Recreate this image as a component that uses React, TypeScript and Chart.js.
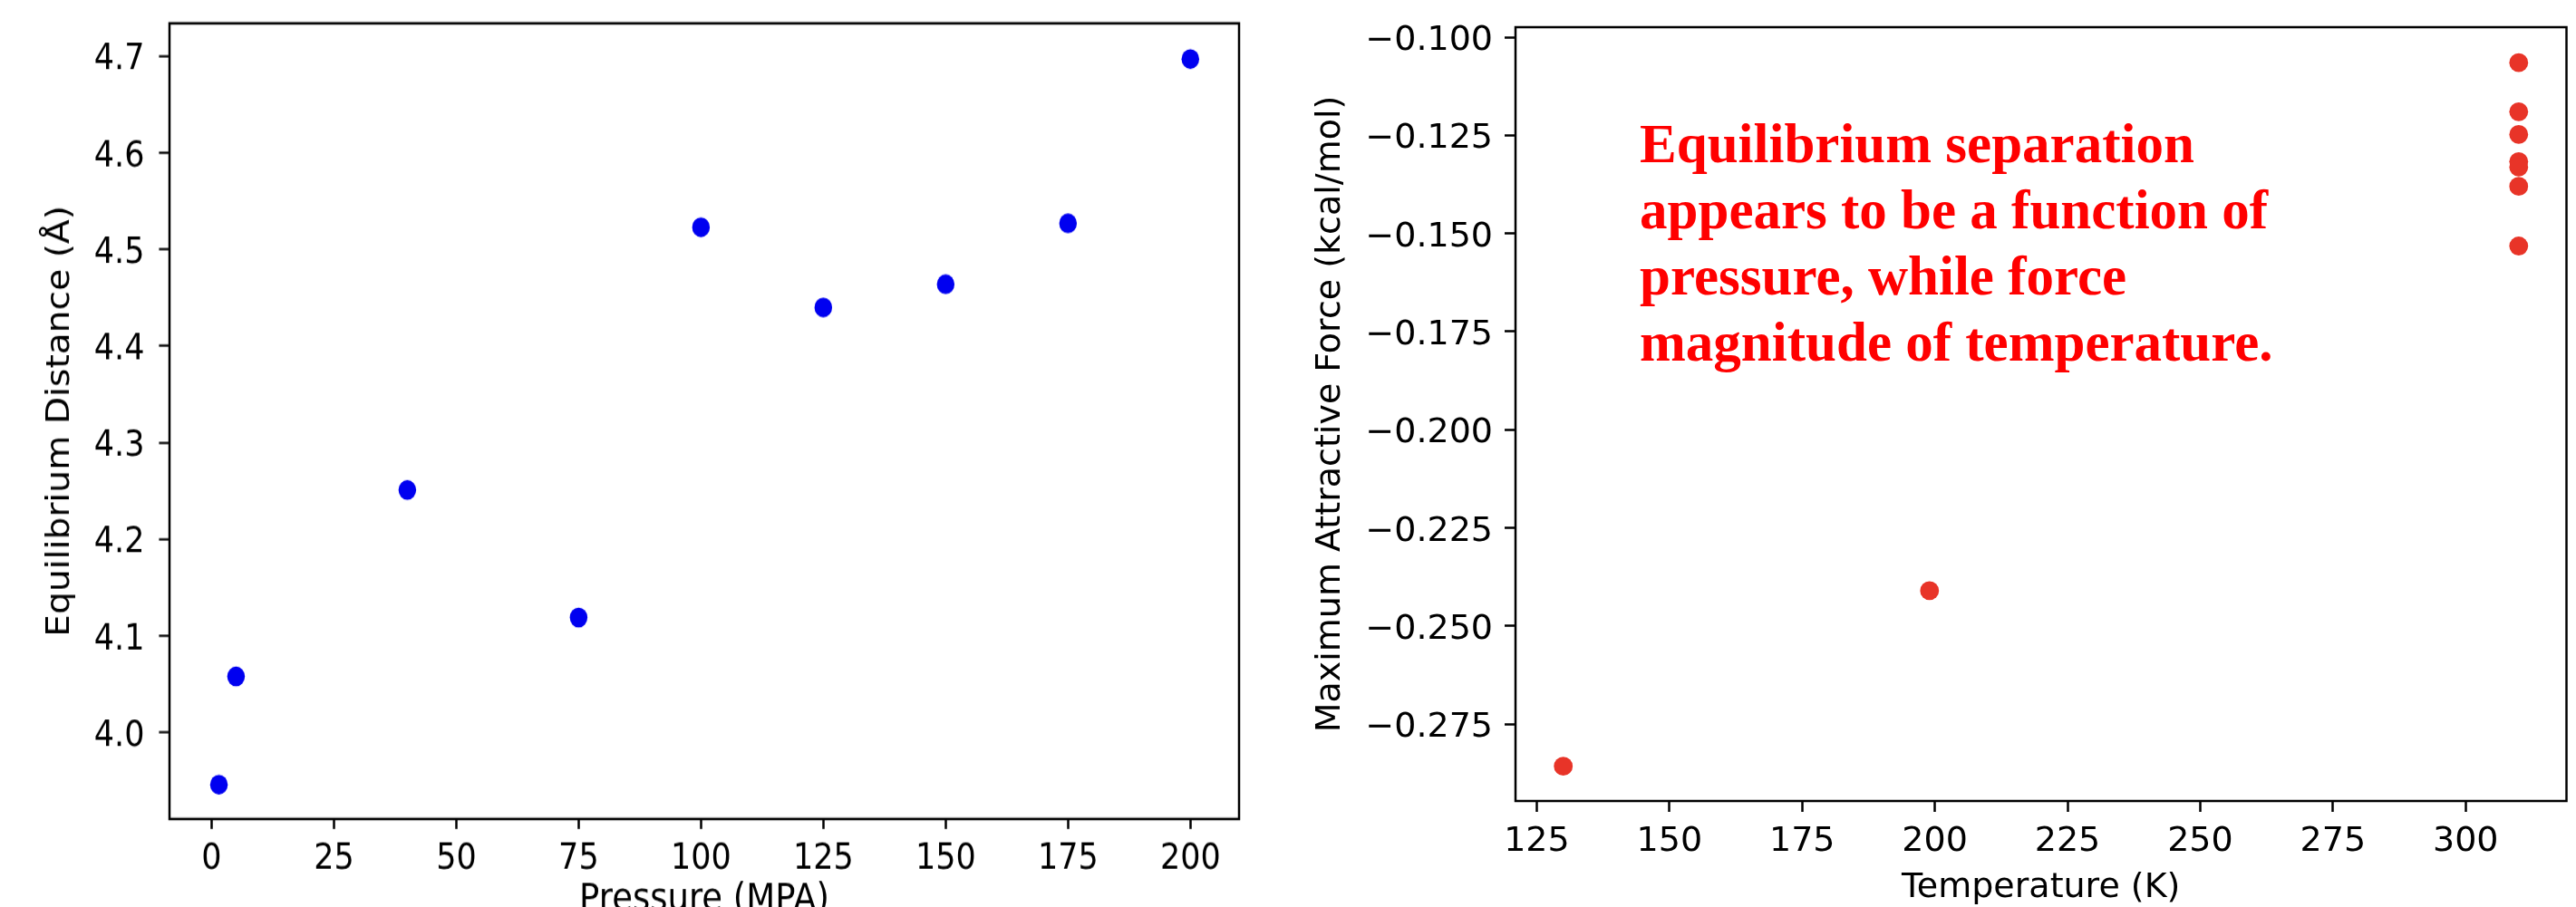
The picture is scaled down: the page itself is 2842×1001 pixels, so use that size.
import React, { useEffect, useRef } from 'react';
import { Chart, registerables } from 'chart.js';

Chart.register(...registerables);

// ---------- Left panel data ----------
const pressureMPa = [1.5, 5, 40, 75, 100, 125, 150, 175, 200];
const equilibriumDistance = [3.946, 4.058, 4.251, 4.119, 4.523, 4.44, 4.464, 4.527, 4.697];
const pressureTicks = [0, 25, 50, 75, 100, 125, 150, 175, 200];
const pressureTickLabels = ['0', '25', '50', '75', '100', '125', '150', '175', '200'];
const distanceTicks = [4.0, 4.1, 4.2, 4.3, 4.4, 4.5, 4.6, 4.7];
const distanceTickLabels = ['4.0', '4.1', '4.2', '4.3', '4.4', '4.5', '4.6', '4.7'];
const pressureRange = [-8.6, 209.95];
const distanceRange = [3.9105, 4.734];

// ---------- Right panel data ----------
const temperatureK = [130, 199, 310, 310, 310, 310, 310, 310, 310];
const attractiveForce = [-0.2857, -0.241, -0.1065, -0.119, -0.1248, -0.1317, -0.1331, -0.138, -0.1532];
const temperatureTicks = [125, 150, 175, 200, 225, 250, 275, 300];
const temperatureTickLabels = ['125', '150', '175', '200', '225', '250', '275', '300'];
const forceTicks = [-0.275, -0.25, -0.225, -0.2, -0.175, -0.15, -0.125, -0.1];
const forceTickLabels = ['\u22120.275', '\u22120.250', '\u22120.225', '\u22120.200', '\u22120.175', '\u22120.150', '\u22120.125', '\u22120.100'];
const temperatureRange = [121, 319];
const forceRange = [-0.29455, -0.09746];

const annotationLines = [
  'Equilibrium separation',
  'appears to be a function of',
  'pressure, while force',
  'magnitude of temperature.',
];
const annotationAnchor = { x: 144.4, y: -0.1319 };

// ---------- Styling constants ----------
const LEFT_W = 1400;
const LEFT_H = 940;
const STRETCH = 1.12;
const RIGHT_W = 1442;
const RIGHT_H = 1001;
const FONT = 'DejaVu Sans';

const framePlugin = {
  id: 'frame',
  afterDatasetsDraw(chart: any, _args: any, opts: any) {
    const { left, top, right, bottom } = chart.chartArea;
    const ctx = chart.ctx;
    ctx.save();
    ctx.strokeStyle = '#000';
    ctx.lineWidth = opts.lineWidth || 2.5;
    ctx.strokeRect(left, top, right - left, bottom - top);
    ctx.restore();
  },
};

const annotationPlugin = {
  id: 'noteText',
  afterDraw(chart: any, _args: any, opts: any) {
    if (!opts || !opts.lines) return;
    const ctx = chart.ctx;
    const x = chart.scales.x.getPixelForValue(opts.anchor.x);
    const y0 = chart.scales.y.getPixelForValue(opts.anchor.y);
    ctx.save();
    ctx.fillStyle = opts.color;
    ctx.font = opts.font;
    ctx.textAlign = 'left';
    ctx.textBaseline = 'alphabetic';
    opts.lines.forEach((line: string, i: number) => {
      ctx.fillText(line, x, y0 + i * opts.lineStep);
    });
    ctx.restore();
  },
};

function tickSetter(values: number[]) {
  return (scale: any) => {
    scale.ticks = values.map((v) => ({ value: v }));
  };
}

export default function App() {
  const leftRef = useRef<HTMLCanvasElement | null>(null);
  const rightRef = useRef<HTMLCanvasElement | null>(null);

  useEffect(() => {
    document.body.style.margin = '0';
    document.body.style.overflow = 'hidden';
    if (!leftRef.current || !rightRef.current) return;

    const left = new Chart(leftRef.current, {
      type: 'scatter',
      data: {
        datasets: [
          {
            data: pressureMPa.map((x, i) => ({ x, y: equilibriumDistance[i] })),
            backgroundColor: 'rgb(0,0,240)',
            borderWidth: 0,
            pointRadius: 9.75,
            pointHoverRadius: 9.75,
          },
        ],
      },
      options: {
        animation: false,
        responsive: false,
        devicePixelRatio: 1,
        layout: { padding: { left: 0, top: 23, right: 33, bottom: 0 } },
        plugins: {
          legend: { display: false },
          tooltip: { enabled: false },
          frame: { lineWidth: 2.5 },
        } as any,
        scales: {
          x: {
            type: 'linear',
            min: pressureRange[0],
            max: pressureRange[1],
            afterBuildTicks: tickSetter(pressureTicks),
            afterFit: (s: any) => {
              s.height = LEFT_H - 807;
              s.paddingLeft = 0;
              s.paddingRight = 0;
            },
            grid: { display: true, drawOnChartArea: false, drawTicks: true, tickLength: 9.8, tickWidth: 2.5, tickColor: '#000' },
            border: { display: false },
            ticks: {
              color: '#000',
              font: { family: FONT, size: 35 },
              padding: 9,
              maxRotation: 0,
              autoSkip: false,
              callback: (_v: any, i: number) => pressureTickLabels[i],
            },
            title: {
              display: true,
              text: 'Pressure (MPA)',
              color: '#000',
              font: { family: FONT, size: 37 },
              padding: { top: 0, bottom: 30 },
            },
          },
          y: {
            type: 'linear',
            min: distanceRange[0],
            max: distanceRange[1],
            afterBuildTicks: tickSetter(distanceTicks),
            afterFit: (s: any) => {
              s.width = 187;
              s.paddingTop = 0;
              s.paddingBottom = 0;
            },
            grid: { display: true, drawOnChartArea: false, drawTicks: true, tickLength: 11.6, tickWidth: 2.5 / STRETCH, tickColor: '#000' },
            border: { display: false },
            ticks: {
              color: '#000',
              font: { family: FONT, size: 35 },
              padding: 16,
              labelOffset: 4,
              autoSkip: false,
              callback: (_v: any, i: number) => distanceTickLabels[i],
            },
            title: {
              display: true,
              text: 'Equilibrium Distance (\u00C5)',
              color: '#000',
              font: { family: FONT, size: 35 },
              padding: { top: 46, bottom: 0 },
            },
          },
        },
      } as any,
      plugins: [framePlugin],
    });

    const right = new Chart(rightRef.current, {
      type: 'scatter',
      data: {
        datasets: [
          {
            data: temperatureK.map((x, i) => ({ x, y: attractiveForce[i] })),
            backgroundColor: 'rgb(232,52,40)',
            borderWidth: 0,
            pointRadius: 10.4,
            pointHoverRadius: 10.4,
          },
        ],
      },
      options: {
        animation: false,
        responsive: false,
        devicePixelRatio: 1,
        layout: { padding: { left: 0, top: 30, right: 10.5, bottom: 0 } },
        plugins: {
          legend: { display: false },
          tooltip: { enabled: false },
          frame: { lineWidth: 2.5 },
          noteText: {
            lines: annotationLines,
            anchor: annotationAnchor,
            color: '#ff0000',
            font: 'bold 61px "Liberation Serif", "Times New Roman", serif',
            lineStep: 73,
          },
        } as any,
        scales: {
          x: {
            type: 'linear',
            min: temperatureRange[0],
            max: temperatureRange[1],
            afterBuildTicks: tickSetter(temperatureTicks),
            afterFit: (s: any) => {
              s.height = RIGHT_H - 884;
              s.paddingLeft = 0;
              s.paddingRight = 0;
            },
            grid: { display: true, drawOnChartArea: false, drawTicks: true, tickLength: 12, tickWidth: 2.5, tickColor: '#000' },
            border: { display: false },
            ticks: {
              color: '#000',
              font: { family: FONT, size: 38 },
              padding: 10,
              maxRotation: 0,
              autoSkip: false,
              callback: (_v: any, i: number) => temperatureTickLabels[i],
            },
            title: {
              display: true,
              text: 'Temperature (K)',
              color: '#000',
              font: { family: FONT, size: 38, lineHeight: 1.1 },
              padding: { top: 0, bottom: 0 },
            },
          },
          y: {
            type: 'linear',
            min: forceRange[0],
            max: forceRange[1],
            afterBuildTicks: tickSetter(forceTicks),
            afterFit: (s: any) => {
              s.width = 272;
              s.paddingTop = 0;
              s.paddingBottom = 0;
            },
            grid: { display: true, drawOnChartArea: false, drawTicks: true, tickLength: 12, tickWidth: 2.5, tickColor: '#000' },
            border: { display: false },
            ticks: {
              color: '#000',
              font: { family: FONT, size: 38 },
              padding: 13,
              labelOffset: 4,
              autoSkip: false,
              callback: (_v: any, i: number) => forceTickLabels[i],
            },
            title: {
              display: true,
              text: 'Maximum Attractive Force (kcal/mol)',
              color: '#000',
              font: { family: FONT, size: 38 },
              padding: { top: 45.7, bottom: 0 },
            },
          },
        },
      } as any,
      plugins: [framePlugin, annotationPlugin],
    });

    return () => {
      left.destroy();
      right.destroy();
    };
  }, []);

  return (
    <div
      style={{
        position: 'absolute',
        left: 0,
        top: 0,
        width: 2842,
        height: 1001,
        overflow: 'hidden',
        background: '#fff',
      }}
    >
      <div
        style={{
          position: 'absolute',
          left: 0,
          top: 0,
          width: LEFT_W,
          height: LEFT_H,
          transform: `scaleY(${STRETCH})`,
          transformOrigin: '0 0',
        }}
      >
        <canvas ref={leftRef} width={LEFT_W} height={LEFT_H} />
      </div>
      <div style={{ position: 'absolute', left: LEFT_W, top: 0, width: RIGHT_W, height: RIGHT_H }}>
        <canvas ref={rightRef} width={RIGHT_W} height={RIGHT_H} />
      </div>
    </div>
  );
}
